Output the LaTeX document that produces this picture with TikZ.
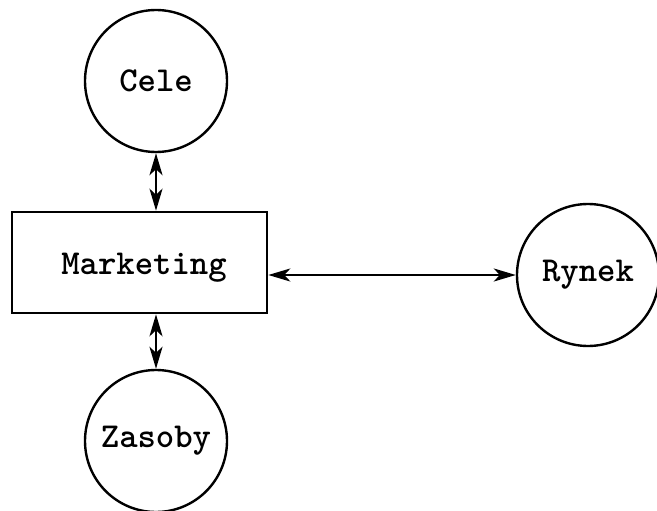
\documentclass[tikz,border=0pt]{standalone}
\usepackage{tikz}
\usetikzlibrary{arrows.meta}
\tikzstyle{c}=[draw,circle,line width=2.4pt,minimum size=142pt,inner sep=0,font=\fontsize{35}{35}\selectfont\ttfamily\bfseries]
\tikzstyle{b}=[draw,rectangle,line width=2.6pt,minimum width=255pt,minimum height=101pt,inner sep=0]
\tikzstyle{t}=[inner sep=0,font=\fontsize{35}{35}\selectfont\ttfamily\bfseries]
\tikzstyle{l}=[line width=2.4pt,arrows={Stealth[length=22pt,width=13pt,inset=6pt]-Stealth[length=22pt,width=13pt,inset=6pt]}]

\begin{document}
\begin{tikzpicture}[x=1pt,y=-1pt]
                        \useasboundingbox (0,0) rectangle (657,511);

                        \node[c] (cele) at (156,81) {Cele};
                        \node[b] (mark) at (139.5,262.5) {};
                        \node[t] (marktext) at (144,268) {Marketing};
                        \node[c] (rynek) at (588,275) {Rynek};
                        \node[c] (zasoby) at (156,441) {Zasoby};

                        \draw[l]
                        (cele) -- (cele |- mark.north);
                        \draw[l]
                        (zasoby |- mark.south) -- (zasoby);
                        \draw[l]
                        (rynek.west -| mark.east) -- (rynek.west)
                        ;

\end{tikzpicture}
\end{document}
